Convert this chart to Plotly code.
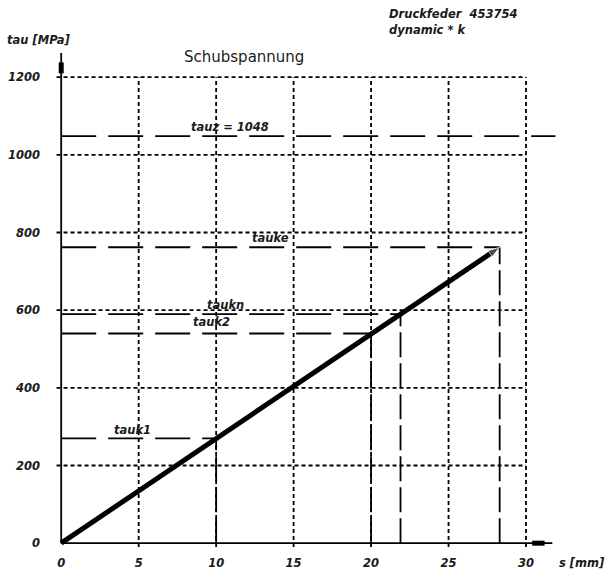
import plotly.graph_objects as go

# --- data ---
s_values = [0, 28.3]            # s [mm]
tau_values = [0, 762]           # tau [MPa]
x_ticks = [0, 5, 10, 15, 20, 25, 30]
y_ticks = [0, 200, 400, 600, 800, 1000, 1200]
grid_x = [5, 10, 15, 20, 25, 30]
grid_y = [200, 400, 600, 800, 1000, 1200]
ref_names = ["tauk1", "tauk2", "taukn", "tauke"]
ref_s = [10, 20, 21.9, 28.3]
ref_tau = [270, 540, 590, 762]
tauz = 1048
tauz_label = "tauz = 1048"
label_pos_s = [4.6, 9.7, 10.6, 13.5]
label_pos_tau = [291, 569, 613, 785]

X_MIN, X_MAX = -0.4, 32
Y_MIN, Y_MAX = -15, 1270
TXT = "#1a1a1a"
FONT = "DejaVu Sans"
fnt = dict(family=FONT, size=11.5, color=TXT, weight="bold", style="italic")

fig = go.Figure()

def seg(x, y, width, dash=None):
    fig.add_trace(go.Scatter(x=x, y=y, mode="lines",
                             line=dict(color="black", width=width, dash=dash),
                             hoverinfo="skip", showlegend=False))

# dashed grid
for gx in grid_x:
    seg([gx, gx], [-10, 1200], 1.8, "4px,3px")
for gy in grid_y:
    seg([-0.3, 30], [gy, gy], 1.8, "4px,3px")

# reference lines (long dash)
LD = "35px,12px"
seg([0, 31.9], [tauz, tauz], 1.8, LD)
for rs, rt in zip(ref_s, ref_tau):
    seg([0, rs], [rt, rt], 1.8, LD)
    seg([rs, rs], [0, rt], 1.8, "25px,6px")

# axes with arrow bars
seg([0, 0], [0, 1262], 1.8)
seg([0, 0], [1210, 1238], 5)
seg([0, 31.7], [0, 0], 1.8)
seg([30.4, 31.2], [0, 0], 5)

# main curve
fig.add_trace(go.Scatter(x=s_values, y=tau_values, mode="lines+markers",
                         line=dict(color="black", width=5),
                         marker=dict(symbol="arrow", size=[0, 12], angleref="previous", color="black"),
                         hoverinfo="skip", showlegend=False))

annotations = []
for name, lx, ly in zip(ref_names, label_pos_s, label_pos_tau):
    annotations.append(dict(x=lx, y=ly, xref="x", yref="y", text=name, showarrow=False, font=fnt))
annotations.append(dict(x=10.9, y=1071, xref="x", yref="y", text=tauz_label, showarrow=False, font=fnt))

annotations += [
    dict(x=-0.0996, y=1.020, xref="paper", yref="paper", text="tau [MPa]", showarrow=False,
         xanchor="left", yanchor="middle", font=fnt),
    dict(x=0.3765, y=0.986, xref="paper", yref="paper", text="Schubspannung", showarrow=False,
         xanchor="center", yanchor="middle", font=dict(family=FONT, size=15, color=TXT)),
    dict(x=0.661, y=1.072, xref="paper", yref="paper", text="Druckfeder  453754", showarrow=False,
         xanchor="left", yanchor="middle", font=fnt),
    dict(x=0.661, y=1.040, xref="paper", yref="paper", text="dynamic * k", showarrow=False,
         xanchor="left", yanchor="middle", font=fnt),
    dict(x=1.0, y=-0.028, xref="paper", yref="paper", text="s [mm]", showarrow=False,
         xanchor="left", yanchor="middle", font=fnt),
]

fig.update_layout(
    width=613, height=571,
    margin=dict(l=55, r=56, t=50, b=22),
    paper_bgcolor="white", plot_bgcolor="white",
    annotations=annotations,
    hovermode=False,
    xaxis=dict(range=[X_MIN, X_MAX], tickvals=x_ticks, ticktext=[str(v) for v in x_ticks],
               showgrid=False, zeroline=False, showline=False, ticks="", automargin=False,
               tickfont=fnt, ticklabelstandoff=5, fixedrange=True),
    yaxis=dict(range=[Y_MIN, Y_MAX], tickvals=y_ticks, ticktext=[str(v) for v in y_ticks],
               showgrid=False, zeroline=False, showline=False, ticks="", automargin=False,
               tickfont=fnt, ticklabelstandoff=14, fixedrange=True),
)

fig.write_html("out.html", config={"displayModeBar": False},
               post_script="document.body.style.margin='0';document.body.style.padding='0';")
